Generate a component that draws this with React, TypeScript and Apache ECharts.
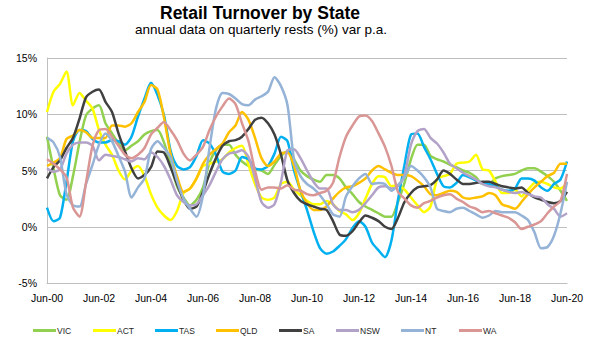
import React, { useEffect, useRef } from "react";
import * as echarts from "echarts";

const SERIES_NAMES = ["VIC", "ACT", "TAS", "QLD", "SA", "NSW", "NT", "WA"];

// Quarterly observations, Jun-00 .. Jun-20 (81 points), % var p.a.
const VIC = [
  8.0, 5.2, 2.8, 2.4, 4.5, 7.5, 9.9, 10.5, 10.8, 9.2,
  8.3, 7.4, 6.8, 7.2, 7.6, 8.2, 8.5, 8.6, 7.5, 5.6,
  3.6, 2.6, 1.9, 2.4, 3.5, 5.7, 6.8, 7.3, 7.3, 6.4,
  5.8, 5.4, 5.1, 5.0, 4.7, 5.5, 6.3, 6.7, 6.0, 5.0,
  4.5, 4.2, 4.0, 4.6, 4.6, 4.3, 3.5, 2.9, 2.2, 1.8,
  1.5, 1.2, 0.9, 0.9, 2.2, 3.9, 6.0, 7.3, 7.3, 6.3,
  6.0, 5.8, 5.5, 5.3, 5.0, 4.8, 4.4, 3.8, 3.8, 4.3,
  4.5, 4.6, 4.7, 5.0, 5.2, 5.2, 4.9, 4.5, 4.0, 3.2,
  2.3,
];
const ACT = [
  10.2, 12.0, 12.7, 13.8, 10.8, 11.9, 11.2, 10.5, 8.6, 7.3,
  6.4, 5.0, 4.2, 5.0, 5.4, 4.5, 2.9, 1.7, 1.0, 0.6,
  1.4, 3.0, 3.4, 4.3, 5.4, 5.6, 5.8, 6.0, 6.6, 7.0,
  7.2, 5.5, 3.8, 2.6, 2.4, 2.6, 3.8, 4.0, 3.3, 2.8,
  2.3, 2.0, 2.0, 2.3, 2.0, 1.4, 1.1, 0.6, 1.2, 2.5,
  3.8, 4.5, 4.4, 3.6, 3.7, 3.3, 2.6, 1.9, 1.3, 1.8,
  4.2, 4.5, 4.7, 5.6, 5.7, 5.8, 6.4, 5.1, 5.0, 4.0,
  3.0, 3.0, 3.3, 2.7, 3.3, 3.9, 4.0, 3.8, 3.5, 3.4,
  3.9,
];
const TAS = [
  1.7, 0.5, 0.8, 4.0, 7.6, 8.6, 8.5, 7.8, 7.5, 7.5,
  7.7, 7.6, 7.3, 8.0, 9.8, 11.4, 12.8, 11.7, 9.9, 6.8,
  5.4, 5.1, 5.3, 6.3, 7.7, 7.4, 6.4, 4.9, 4.7, 5.0,
  6.2, 6.0, 5.2, 5.1, 5.4, 6.5, 8.0, 7.6, 5.0, 3.2,
  1.5, -0.4, -1.9, -2.4, -2.2, -1.7, -1.1, -0.1, 0.5, 0.0,
  -1.4, -2.1, -2.7, -1.2, 2.4, 5.5, 8.2, 8.3, 7.1, 6.0,
  4.7, 3.6, 3.5, 3.9, 4.6, 4.4, 4.1, 3.9, 3.8, 3.6,
  3.3, 3.2, 3.4, 4.3, 4.3, 4.1, 3.5, 3.2, 3.8, 4.2,
  5.8,
];
const QLD = [
  5.4, 5.7, 6.1, 7.8, 8.1, 8.6, 8.4, 7.9, 7.9, 7.9,
  9.0, 9.0, 8.9, 9.2, 10.2, 11.1, 12.6, 12.2, 9.7, 6.5,
  4.5, 3.1, 3.4, 4.3, 5.6, 6.4, 6.9, 7.4, 8.4, 9.0,
  10.2, 9.5, 7.9, 6.1, 5.4, 5.8, 6.5, 6.6, 5.4, 3.2,
  2.1, 1.5, 1.5, 1.8, 2.5, 3.1, 3.5, 3.6, 3.9, 4.3,
  5.0, 5.4, 5.1, 4.8, 4.6, 4.6, 4.5, 4.1, 3.6, 2.9,
  2.8, 3.0, 3.2, 3.1, 2.6, 2.5, 2.6, 2.7, 3.0, 2.8,
  2.0, 1.8, 1.6, 2.2, 2.9, 3.5, 4.0, 4.5, 4.8, 5.6,
  5.6,
];
const SA = [
  4.3, 5.3, 5.9, 7.0, 7.9, 9.6, 11.5, 12.0, 12.2, 11.1,
  10.2, 8.3, 6.7, 5.2, 4.3, 4.6, 5.3, 6.7, 6.6, 5.3,
  3.8, 2.4, 1.6, 1.8, 3.1, 4.7, 6.1, 7.2, 7.6, 7.7,
  8.0, 8.7, 9.5, 9.7, 9.2, 8.2, 6.4, 4.1, 3.0, 2.3,
  2.0, 1.8, 1.6, 1.5, 0.5, -0.7, -0.8, -0.4, 0.4, 1.0,
  0.8, 0.5, 0.0, -0.2, 0.8, 2.2, 3.0, 3.5, 3.6, 3.7,
  4.2, 5.0, 4.7, 4.2, 3.8, 3.8, 3.9, 4.0, 4.0, 3.8,
  3.6, 3.5, 3.4, 3.5, 3.0, 2.6, 2.4, 2.2, 2.1, 2.3,
  3.1,
];
const NSW = [
  5.2, 4.9, 5.1, 6.5, 7.3, 7.5, 7.5, 7.2, 5.9, 6.4,
  6.3, 6.2, 6.0, 5.8, 6.1, 6.0, 6.6, 6.2, 5.4, 4.2,
  2.8, 2.2, 1.9, 2.0, 2.8, 3.7, 4.9, 6.0, 6.5, 6.6,
  6.8, 6.2, 4.3, 2.2, 1.7, 2.0, 4.0, 6.8, 6.9, 6.1,
  5.0, 4.0, 3.4, 3.4, 2.0, 1.5, 1.5, 1.3, 1.5, 2.1,
  2.8, 3.5, 3.6, 3.4, 3.6, 4.6, 7.3, 8.5, 8.7, 7.9,
  7.4, 6.6, 5.6, 5.2, 4.8, 4.5, 4.2, 3.8, 3.6, 3.5,
  3.3, 3.1, 3.0, 3.1, 2.9, 2.7, 2.6, 2.0, 1.6, 0.9,
  1.2,
];
const NT = [
  7.9, 7.5, 6.2, 2.9, 1.9, 1.8, 3.8, 5.5, 7.3, 8.3,
  7.6, 6.3, 4.9, 2.6, 3.5, 4.3, 6.9, 7.6, 7.0, 6.2,
  4.1, 2.5, 1.6, 0.9, 2.8, 7.0, 10.5, 11.9, 11.8, 11.4,
  10.9, 10.8, 11.3, 11.6, 12.0, 13.3, 12.5, 10.8, 6.0, 4.5,
  3.8, 3.4, 2.8, 2.0, 1.1, 0.9, 2.7, 3.6, 4.3, 4.7,
  3.8, 3.9, 3.8, 3.2, 3.7, 4.4, 5.4, 5.0, 4.4, 3.5,
  1.6, 1.4, 1.3, 1.6, 1.7, 1.4, 1.1, 0.8, 1.0, 1.4,
  1.3, 1.3, 1.3, 1.0, 0.6, -0.5, -1.9, -1.8, -0.8, 1.2,
  4.0,
];
const WA = [
  6.0, 5.6, 5.1, 4.4, 1.7, 0.9, 3.9, 7.2, 8.6, 8.7,
  8.0, 7.2, 6.4, 6.1, 6.4, 7.0, 8.2, 8.8, 9.3, 8.6,
  7.7, 6.5, 5.9, 6.4, 7.1, 8.6, 9.8, 10.7, 11.4, 10.9,
  9.2, 7.6, 5.0, 3.3, 3.5, 3.5, 3.4, 3.7, 3.3, 3.2,
  2.9, 2.8, 3.0, 3.2, 3.9, 6.2, 8.0, 9.0, 9.8, 9.9,
  9.4, 8.3, 7.1, 5.4, 3.1, 2.5, 1.9, 1.7, 2.1, 2.3,
  2.6, 2.8, 2.9, 2.5, 2.2, 1.8, 1.6, 1.3, 1.4, 1.2,
  1.0, 0.8, 0.4, -0.2, 0.0, 0.2, 0.5, 1.2, 1.8, 2.3,
  4.7,
];

const SERIES_DATA = [VIC, ACT, TAS, QLD, SA, NSW, NT, WA];
const COLORS = ["#92D050", "#FFFF00", "#00B0F0", "#FFC000", "#404040", "#B3A2C7", "#95B3D7", "#D99694"];

const MONTH_NAMES = ["Jan", "Feb", "Mar", "Apr", "May", "Jun", "Jul", "Aug", "Sep", "Oct", "Nov", "Dec"];
const START_YEAR = 2000;
const START_MONTH = 5; // June
const CATEGORIES = VIC.map((_, q) => {
  const total = START_MONTH + 3 * q;
  const y = START_YEAR + Math.floor(total / 12);
  const m = total % 12;
  return `${MONTH_NAMES[m]}-${String(y % 100).padStart(2, "0")}`;
});

const TITLE = "Retail Turnover by State";
const SUBTITLE = "annual data on quarterly rests (%) var p.a.";

// layout
const LEGEND_LEFT = [33, 93, 155, 216, 279, 336, 401, 459];
const FONT = "'Liberation Sans', Arial, sans-serif";

export default function App() {
  const ref = useRef<HTMLDivElement>(null);
  useEffect(() => {
    const chart = echarts.init(ref.current!, null, { renderer: "svg" });
    const option: any = {
      animation: false,
      backgroundColor: "#ffffff",
      textStyle: { fontFamily: FONT },
      graphic: [
        {
          type: "text",
          x: 260,
          y: 13,
          style: {
            text: TITLE,
            font: `bold 17.5px ${FONT}`,
            fill: "#000",
            align: "center",
            verticalAlign: "middle",
          },
        },
        {
          type: "text",
          x: 261,
          y: 29.5,
          style: {
            text: SUBTITLE,
            font: `13.5px ${FONT}`,
            fill: "#000",
            align: "center",
            verticalAlign: "middle",
          },
        },
      ],
      legend: SERIES_NAMES.map((n, i) => ({
        data: [n],
        left: LEGEND_LEFT[i],
        top: 326,
        padding: 0,
        icon: "rect",
        itemWidth: 23,
        itemHeight: 3,
        selectedMode: false,
        textStyle: {
          fontSize: 8.5,
          fontFamily: "'Liberation Sans Narrow', 'Liberation Sans', Arial, sans-serif",
          color: "#262626",
          padding: [0, 0, 0, -4],
        },
      })),
      grid: { left: 47, right: 41, top: 58, bottom: 67, containLabel: false },
      xAxis: {
        type: "category",
        data: CATEGORIES,
        boundaryGap: false,
        axisLine: { show: true, onZero: false, lineStyle: { color: "#BFBFBF", width: 1 } },
        axisTick: { show: false },
        axisLabel: {
          interval: 7,
          margin: 9,
          color: "#000",
          fontSize: 10.5,
          fontFamily: FONT,
        },
        splitLine: { show: false },
      },
      yAxis: {
        type: "value",
        min: -5,
        max: 15,
        interval: 5,
        axisLine: { show: true, lineStyle: { color: "#BFBFBF", width: 1 } },
        axisTick: { show: false },
        axisLabel: {
          formatter: "{value}%",
          color: "#000",
          fontSize: 10.5,
          fontFamily: FONT,
          margin: 10,
        },
        splitLine: { show: true, lineStyle: { color: "#BFBFBF", width: 1 } },
      },
      series: SERIES_NAMES.map((n, i) => ({
        name: n,
        type: "line",
        data: SERIES_DATA[i],
        symbol: "none",
        smooth: 0.25,
        color: COLORS[i],
        lineStyle: { color: COLORS[i], width: 2.5 },
      })),
    };
    chart.setOption(option);
    return () => chart.dispose();
  }, []);
  return (
    <div
      ref={ref}
      style={{ position: "absolute", left: 0, top: 0, width: 608, height: 350, background: "#fff" }}
    />
  );
}
